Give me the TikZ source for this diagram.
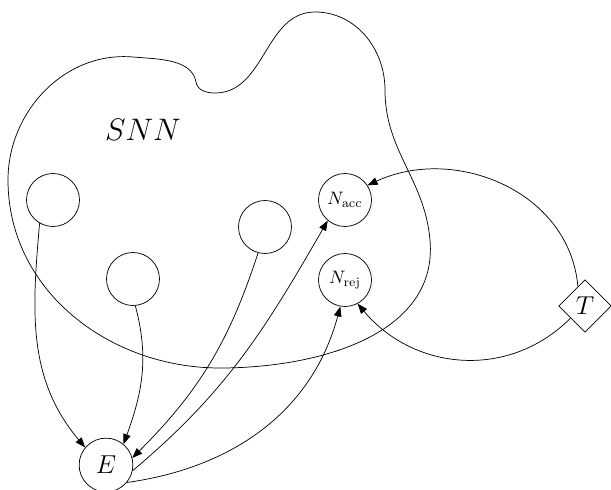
\documentclass[tikz,border=0pt]{standalone}
\usetikzlibrary{arrows.meta,shapes.geometric}
\begin{document}
\begin{tikzpicture}[x=0.01953cm,y=0.01953cm,
  neuron/.style={circle,draw,minimum size=1.035cm,inner sep=0pt},
  tnode/.style={diamond,draw,minimum size=1.03cm,inner sep=0pt,font=\Large},
  enode/.style={circle,draw,minimum size=1.05cm,inner sep=0pt,font=\Large},
  arr/.style={-{Triangle[length=5.6pt,width=4.2pt]}},
  blob/.style={draw}]
\useasboundingbox (0,0) rectangle (611,-490);
% blob
\draw[blob] (8,-180)
  to[out=90,in=175,looseness=1.0] (133,-57)
  to[out=-5,in=100,looseness=0.9] (196,-82)
  to[out=-80,in=180,looseness=1.0] (215,-93)
  to[out=0,in=180,looseness=1.0] (315,-12)
  to[out=0,in=90,looseness=1.0] (385,-90)
  to[out=-90,in=95,looseness=1.0] (430,-240)
  to[out=-85,in=0,looseness=1.0] (220,-368)
  to[out=180,in=-90,looseness=1.0] (8,-180) -- cycle;
\node[font=\LARGE] (snn) at (143,-130) {$SNN$};
\node[neuron] (a) at (53,-200) {};
\node[neuron] (b) at (133,-279) {};
\node[neuron] (c) at (265,-227) {};
\node[neuron] (nacc) at (345,-200) {$N_{\mathrm{acc}}$};
\node[neuron] (nrej) at (345,-280) {$N_{\mathrm{rej}}$};
\node[tnode] (t) at (585,-306) {$T$};
\node[enode] (e) at (106,-465) {$E$};
\draw[arr] (a.240) to[out=-95,in=130] (e.140);
\draw[arr] (b.-85) to[out=-75,in=70] (e.50);
\draw[arr] (c.-105) to[out=-108,in=45] (e.15);
\draw[arr] (e.-12) to[out=40,in=-120] (nacc.-130);
\draw[arr] (e.-40) to[out=8,in=-105] (nrej.-100);
\draw[arr] (t.110) to[out=95,in=25,looseness=1.05] (nacc.33);
\draw[arr] (t.-140) to[out=-135,in=-50,looseness=1.05] (nrej.-62);
\end{tikzpicture}
\end{document}
